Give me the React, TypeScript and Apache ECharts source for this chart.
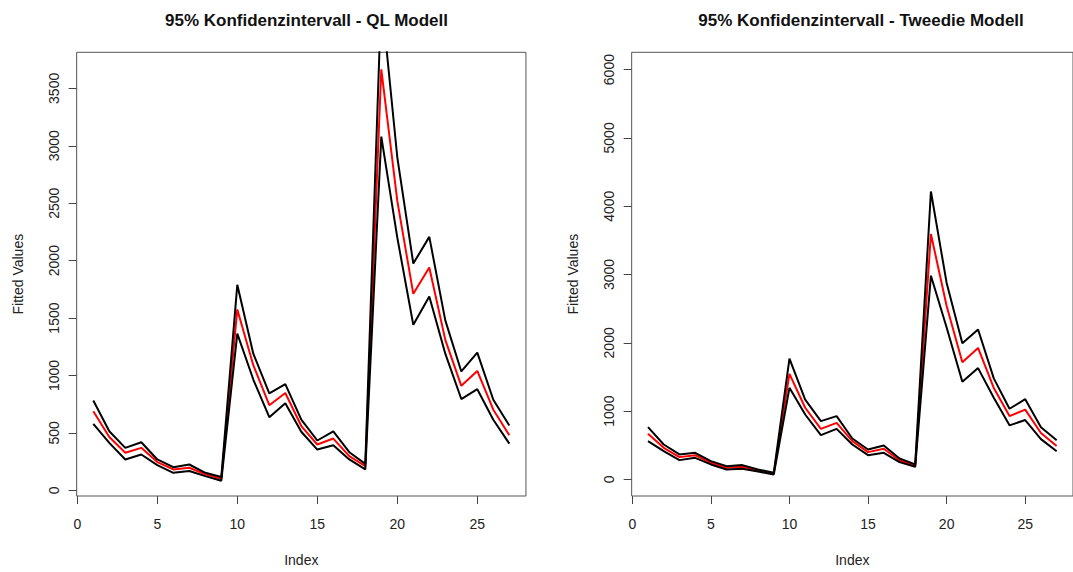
import React, { useEffect, useRef } from "react";
import * as echarts from "echarts";

const indexValues = [1,2,3,4,5,6,7,8,9,10,11,12,13,14,15,16,17,18,19,20,21,22,23,24,25,26,27];
const xTicks = [0, 5, 10, 15, 20, 25];

const qlUpper = [783,515,370,419,269,202,225,153,116,1790,1190,845,925,615,434,514,332,231,4300,2900,1975,2207,1480,1035,1199,789,564];
const qlFit   = [688,465,327,370,246,182,197,139,101,1575,1090,741,848,560,399,451,298,211,3665,2520,1711,1941,1310,910,1040,702,480];
const qlLower = [578,413,269,312,220,153,168,124,84,1365,965,637,758,510,355,393,269,182,3080,2200,1441,1688,1190,795,881,615,407];
const qlYTicks = [0, 500, 1000, 1500, 2000, 2500, 3000, 3500];

const twUpper = [766,512,366,390,268,195,210,146,98,1770,1170,854,927,600,439,498,307,220,4216,2877,1995,2195,1480,1035,1175,765,575];
const twFit   = [668,463,327,356,244,171,185,132,88,1546,1050,741,829,561,400,449,278,205,3592,2540,1716,1925,1340,928,1022,680,490];
const twLower = [561,415,283,317,220,146,156,117,73,1341,951,649,741,512,356,390,254,185,2983,2224,1430,1630,1195,792,870,590,413];
const twYTicks = [0, 1000, 2000, 3000, 4000, 5000, 6000];

const titles = ["95% Konfidenzintervall - QL Modell", "95% Konfidenzintervall - Tweedie Modell"];

const FONT = "Liberation Sans, Arial, sans-serif";

function pairs(vals: number[]) {
  return vals.map((v, i) => [indexValues[i], v]);
}

export default function App() {
  const ref = useRef<HTMLDivElement>(null);
  useEffect(() => {
    document.body.style.margin = "0";
    if (!ref.current) return;
    const chart = echarts.init(ref.current, undefined, { renderer: "svg" });
    const gridTop = 52.3;
    const gridH = 447.7;
    const pxPerUnit = 16;
    const grids = [
      { left: 77.3 - 0.04 * pxPerUnit, top: gridTop, width: 28.08 * pxPerUnit, height: gridH },
      { left: 632.3 - 0.04 * pxPerUnit, top: gridTop, width: 28.08 * pxPerUnit, height: gridH },
    ];
    const plain = (v: number) => String(v);
    const xAxis = [0, 1].map((g) => ({
      type: "value",
      gridIndex: g,
      min: -0.04,
      max: 28.04,
      name: "Index",
      nameLocation: "middle",
      nameGap: 57,
      nameTextStyle: { fontFamily: FONT, fontSize: 14, color: "#222" },
      axisLine: { show: false, onZero: false },
      splitLine: { show: false },
      axisTick: { show: true, inside: false, length: 8, customValues: xTicks, lineStyle: { color: "#444", width: 1 } },
      axisLabel: { show: true, customValues: xTicks, formatter: plain, margin: 21, fontFamily: FONT, fontSize: 14, color: "#222" },
    }));
    const yTickSets = [qlYTicks, twYTicks];
    const yRanges = [
      { min: -49.2, max: 3814 },
      { min: -242, max: 6253 },
    ];
    const yAxis = [0, 1].map((g) => ({
      type: "value",
      gridIndex: g,
      min: yRanges[g].min,
      max: yRanges[g].max,
      name: "Fitted Values",
      nameLocation: "middle",
      nameGap: 52,
      nameRotate: 90,
      nameTextStyle: { fontFamily: FONT, fontSize: 14, color: "#222" },
      axisLine: { show: false, onZero: false },
      splitLine: { show: false },
      axisTick: { show: true, inside: false, length: 8, customValues: yTickSets[g], lineStyle: { color: "#444", width: 1 } },
      axisLabel: { show: true, rotate: 90, customValues: yTickSets[g], formatter: plain, margin: 16, fontFamily: FONT, fontSize: 14, color: "#222" },
    }));
    const mk = (g: number, data: number[], color: string) => ({
      type: "line",
      xAxisIndex: g,
      yAxisIndex: g,
      data: pairs(data),
      showSymbol: false,
      symbol: "none",
      clip: true,
      lineStyle: { color, width: 2 },
      z: color === "red" ? 2 : 3,
    });
    chart.setOption({
      animation: false,
      backgroundColor: "#fff",
      title: [
        { text: titles[0], left: 301.5, top: 7, textAlign: "center", textStyle: { fontFamily: FONT, fontSize: 17, fontWeight: "bold", color: "#111" } },
        { text: titles[1], left: 856, top: 7, textAlign: "center", textStyle: { fontFamily: FONT, fontSize: 17, fontWeight: "bold", color: "#111" } },
      ],
      grid: grids.map((g) => ({ ...g, show: true, borderColor: "#555", borderWidth: 1, backgroundColor: "transparent" })),
      xAxis,
      yAxis,
      series: [
        mk(0, qlFit, "red"),
        mk(0, qlUpper, "#000"),
        mk(0, qlLower, "#000"),
        mk(1, twFit, "red"),
        mk(1, twUpper, "#000"),
        mk(1, twLower, "#000"),
      ],
    });
    return () => chart.dispose();
  }, []);
  return <div ref={ref} style={{ width: 1073, height: 572 }} />;
}
